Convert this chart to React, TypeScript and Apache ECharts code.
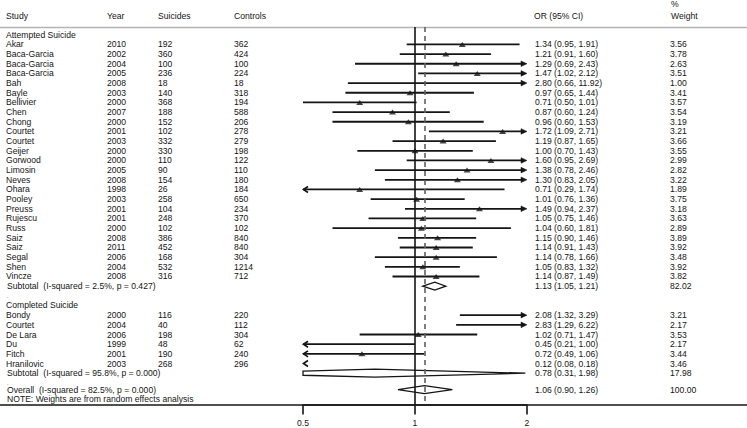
import React, { useEffect, useRef } from "react";
import * as echarts from "echarts";

// ---------- data: attempted suicide ----------
const attStudy = ["Akar","Baca-Garcia","Baca-Garcia","Baca-Garcia","Bah","Bayle","Bellivier","Chen","Chong","Courtet","Courtet","Geijer","Gorwood","Limosin","Neves","Ohara","Pooley","Preuss","Rujescu","Russ","Saiz","Saiz","Segal","Shen","Vincze"];
const attYear = [2010,2002,2004,2005,2008,2003,2000,2007,2000,2001,2003,2000,2000,2005,2008,1998,2003,2001,2001,2000,2008,2011,2006,2004,2008];
const attSuicides = [192,360,100,236,18,140,368,188,152,102,332,330,110,90,154,26,258,104,248,102,386,452,168,532,316];
const attControls = [362,424,100,224,18,318,194,588,206,278,279,198,122,110,180,184,650,234,370,102,840,840,304,1214,712];
const attOR = [1.34,1.21,1.29,1.47,2.80,0.97,0.71,0.87,0.96,1.72,1.19,1.00,1.60,1.38,1.30,0.71,1.01,1.49,1.05,1.04,1.15,1.14,1.14,1.05,1.14];
const attLo = [0.95,0.91,0.69,1.02,0.66,0.65,0.50,0.60,0.60,1.09,0.87,0.70,0.95,0.78,0.83,0.29,0.76,0.94,0.75,0.60,0.90,0.91,0.78,0.83,0.87];
const attHi = [1.91,1.60,2.43,2.12,11.92,1.44,1.01,1.24,1.53,2.71,1.65,1.43,2.69,2.46,2.05,1.74,1.36,2.37,1.46,1.81,1.46,1.43,1.66,1.32,1.49];
const attWeight = [3.56,3.78,2.63,3.51,1.00,3.41,3.57,3.54,3.19,3.21,3.66,3.55,2.99,2.82,3.22,1.89,3.75,3.18,3.63,2.89,3.89,3.92,3.48,3.92,3.82];

// ---------- data: completed suicide ----------
const compStudy = ["Bondy","Courtet","De Lara","Du","Fitch","Hranilovic"];
const compYear = [2000,2004,2006,1999,2001,2003];
const compSuicides = [116,40,198,48,190,268];
const compControls = [220,112,304,62,240,296];
const compOR = [2.08,2.83,1.02,0.45,0.72,0.12];
const compLo = [1.32,1.29,0.71,0.21,0.49,0.08];
const compHi = [3.29,6.22,1.47,1.00,1.06,0.18];
const compWeight = [3.21,2.17,3.53,2.17,3.44,3.46];

// ---------- summaries ----------
const sectionLabels = ["Attempted Suicide", "Completed Suicide"];
const subLabels = ["Subtotal\u00a0 (I-squared = 2.5%, p = 0.427)", "Subtotal\u00a0 (I-squared = 95.8%, p = 0.000)"];
const subOR = [1.13, 0.78];
const subLo = [1.05, 0.31];
const subHi = [1.21, 1.98];
const subWeight = [82.02, 17.98];
const overallLabel = "Overall\u00a0 (I-squared = 82.5%, p = 0.000)";
const overallOR = 1.06;
const overallLo = 0.90;
const overallHi = 1.26;
const overallWeight = 100.0;
const noteText = "NOTE: Weights are from random effects analysis";
const headers = ["Study", "Year", "Suicides", "Controls", "OR (95% CI)", "Weight"];
const xTicks = [0.5, 1, 2];

// ---------- styling ----------
const FONT = '"Liberation Sans", Arial, Helvetica, sans-serif';
const FS = 8.6;
const INK = "#151515";
const COL = { study: 6, year: 107, suicides: 158, controls: 234, or: 535, weight: 670 };
const XMIN = xTicks[0];
const XMAX = xTicks[xTicks.length - 1];
const YMIN = -0.8;
const YMAX = 38.29;

type Row = {
  idx: number;
  kind: "section" | "study" | "summary" | "dot";
  label: string;
  year?: number;
  suicides?: number;
  controls?: number;
  or?: number;
  lo?: number;
  hi?: number;
  weight?: number;
};

function buildRows(): Row[] {
  const rows: Row[] = [];
  let idx = 0;
  rows.push({ idx: idx++, kind: "section", label: sectionLabels[0] });
  attStudy.forEach((s, i) =>
    rows.push({ idx: idx++, kind: "study", label: s, year: attYear[i], suicides: attSuicides[i], controls: attControls[i], or: attOR[i], lo: attLo[i], hi: attHi[i], weight: attWeight[i] })
  );
  rows.push({ idx: idx++, kind: "summary", label: subLabels[0], or: subOR[0], lo: subLo[0], hi: subHi[0], weight: subWeight[0] });
  rows.push({ idx: idx++, kind: "dot", label: "." });
  rows.push({ idx: idx++, kind: "section", label: sectionLabels[1] });
  compStudy.forEach((s, i) =>
    rows.push({ idx: idx++, kind: "study", label: s, year: compYear[i], suicides: compSuicides[i], controls: compControls[i], or: compOR[i], lo: compLo[i], hi: compHi[i], weight: compWeight[i] })
  );
  rows.push({ idx: idx++, kind: "summary", label: subLabels[1], or: subOR[1], lo: subLo[1], hi: subHi[1], weight: subWeight[1] });
  rows.push({ idx: idx, kind: "dot", label: "." });
  idx++;
  rows.push({ idx: idx - 0.3, kind: "summary", label: overallLabel, or: overallOR, lo: overallLo, hi: overallHi, weight: overallWeight });
  return rows;
}

const fmt2 = (v: number) => v.toFixed(2);

export default function App() {
  const ref = useRef<HTMLDivElement>(null);
  useEffect(() => {
    if (!ref.current) return;
    const chart = echarts.init(ref.current, null, { renderer: "svg" });
    const rows = buildRows();
    const plotRows = rows.filter((r) => r.or != null);
    const pointRows = plotRows.filter((r) => r.kind === "study" && (r.or as number) >= XMIN && (r.or as number) <= XMAX);

    const txt = (x: number, y: number, text: string, extra: any = {}) => ({
      type: "text",
      x,
      y,
      silent: true,
      style: { text, fill: INK, fontSize: FS, fontFamily: FONT, verticalAlign: "middle", align: "left", ...extra },
    });

    const option: any = {
      animation: false,
      backgroundColor: "#ffffff",
      grid: { left: 303, top: 27, width: 224, height: 378 },
      xAxis: {
        type: "log",
        logBase: 2,
        min: XMIN,
        max: XMAX,
        axisLine: { show: true, onZero: false, lineStyle: { color: INK, width: 1.7 } },
        axisTick: { show: false },
        axisLabel: {
          color: INK,
          fontSize: FS,
          fontFamily: FONT,
          margin: 13,
          formatter: (v: number) => String(Math.round(v * 100) / 100),
        },
        splitLine: { show: false },
        minorTick: { show: false },
      },
      yAxis: { type: "value", min: YMIN, max: YMAX, inverse: true, show: false },
      graphic: [
        { id: "hdrline", type: "line", shape: { x1: 0, y1: 27.5, x2: 747, y2: 27.5 }, style: { stroke: "#b4b4b4", lineWidth: 1.5 }, silent: true },
        { id: "axisline", type: "line", shape: { x1: 0, y1: 405, x2: 747, y2: 405 }, style: { stroke: INK, lineWidth: 1.7 }, silent: true },
        { id: "h0", ...txt(COL.study, 16, headers[0]) },
        { id: "h1", ...txt(COL.year, 16, headers[1]) },
        { id: "h2", ...txt(COL.suicides, 16, headers[2]) },
        { id: "h3", ...txt(COL.controls, 16, headers[3]) },
        { id: "h4", ...txt(COL.or - 1, 16, headers[4]) },
        { id: "h5", ...txt(COL.weight + 1, 4, "%") },
        { id: "h6", ...txt(COL.weight + 1, 16, headers[5]) },
        { id: "note", ...txt(COL.study + 1, 399.2, noteText) },
      ],
      series: [
        {
          type: "custom",
          name: "table",
          clip: false,
          silent: true,
          data: rows.map((r) => [1, r.idx]),
          renderItem: (params: any, api: any) => {
            const r = rows[params.dataIndex];
            const y = api.coord([1, r.idx])[1];
            if (r.kind === "dot") {
              return txt(COL.study + 1, y, r.label, { fontSize: 5 });
            }
            const xl = r.kind === "summary" ? COL.study + 1 : COL.study;
            const ch: any[] = [txt(xl, y, r.label)];
            if (r.kind === "study") {
              ch.push(txt(COL.year, y, String(r.year)));
              ch.push(txt(COL.suicides, y, String(r.suicides)));
              ch.push(txt(COL.controls, y, String(r.controls)));
            }
            if (r.or != null) {
              ch.push(txt(COL.or, y, `${fmt2(r.or)} (${fmt2(r.lo as number)}, ${fmt2(r.hi as number)})`));
              ch.push(txt(COL.weight, y, fmt2(r.weight as number)));
            }
            return { type: "group", children: ch };
          },
        },
        {
          type: "custom",
          name: "intervals",
          clip: false,
          silent: true,
          data: plotRows.map((r) => [r.or, r.idx]),
          renderItem: (params: any, api: any) => {
            const r = plotRows[params.dataIndex];
            const y = api.coord([1, r.idx])[1];
            const X = (v: number) => api.coord([v, r.idx])[0];
            const lo = r.lo as number, hi = r.hi as number, est = r.or as number;
            const ch: any[] = [];
            const a = Math.max(lo, XMIN), b = Math.min(hi, XMAX);
            if (r.kind === "study") {
              if (b > a) {
                ch.push({ type: "line", shape: { x1: X(a), y1: y, x2: hi > XMAX ? X(b) - 3 : X(b), y2: y }, style: { stroke: INK, lineWidth: 1.8 } });
              }
              if (lo < XMIN) {
                const xl = X(XMIN);
                ch.push({ type: "polyline", shape: { points: [[xl + 5, y - 3], [xl + 0.5, y], [xl + 5, y + 3]] }, style: { stroke: INK, lineWidth: 1.7, fill: "none" } });
              }
              if (hi > XMAX) {
                const xr = X(XMAX);
                ch.push({ type: "polygon", shape: { points: [[xr, y], [xr - 6, y - 2.8], [xr - 6, y + 2.8]] }, style: { fill: INK, stroke: INK, lineWidth: 0.5 } });
              }
            } else {
              const h = 4;
              const L = Math.log(lo), E = Math.log(est), H = Math.log(hi);
              const half = (v: number) => {
                const lv = Math.log(v);
                return lv <= E ? (h * (lv - L)) / (E - L) : (h * (H - lv)) / (H - E);
              };
              const top: number[][] = [[X(a), y - half(a)]];
              const bot: number[][] = [[X(a), y + half(a)]];
              if (est > a && est < b) {
                top.push([X(est), y - h]);
                bot.push([X(est), y + h]);
              }
              top.push([X(b), y - half(b)]);
              bot.push([X(b), y + half(b)]);
              const pts = top.concat(bot.reverse());
              ch.push({ type: "polygon", shape: { points: pts }, style: { fill: "none", stroke: INK, lineWidth: 1.3 } });
            }
            return { type: "group", children: ch };
          },
        },
        {
          type: "scatter",
          name: "ticks",
          silent: true,
          clip: false,
          symbol: "rect",
          symbolSize: [2, 9],
          symbolOffset: [0, 5],
          itemStyle: { color: INK },
          z: 10,
          data: xTicks.map((v) => [v, YMAX]),
        },
        {
          type: "scatter",
          name: "estimates",
          silent: true,
          symbol: "triangle",
          symbolSize: [7, 5],
          itemStyle: { color: INK },
          data: pointRows.map((r) => [r.or, r.idx]),
          markLine: {
            silent: true,
            symbol: ["none", "none"],
            label: { show: false },
            data: [
              { xAxis: 1, lineStyle: { color: INK, width: 1.6, type: "solid" } },
              { xAxis: overallOR, lineStyle: { color: "#606060", width: 1.6, type: [5, 4] } },
            ],
          },
        },
      ],
    };
    chart.setOption(option);
    return () => chart.dispose();
  }, []);
  return (
    <div
      ref={ref}
      style={{ position: "fixed", left: 0, top: 0, width: 747, height: 428, background: "#fff" }}
    />
  );
}
